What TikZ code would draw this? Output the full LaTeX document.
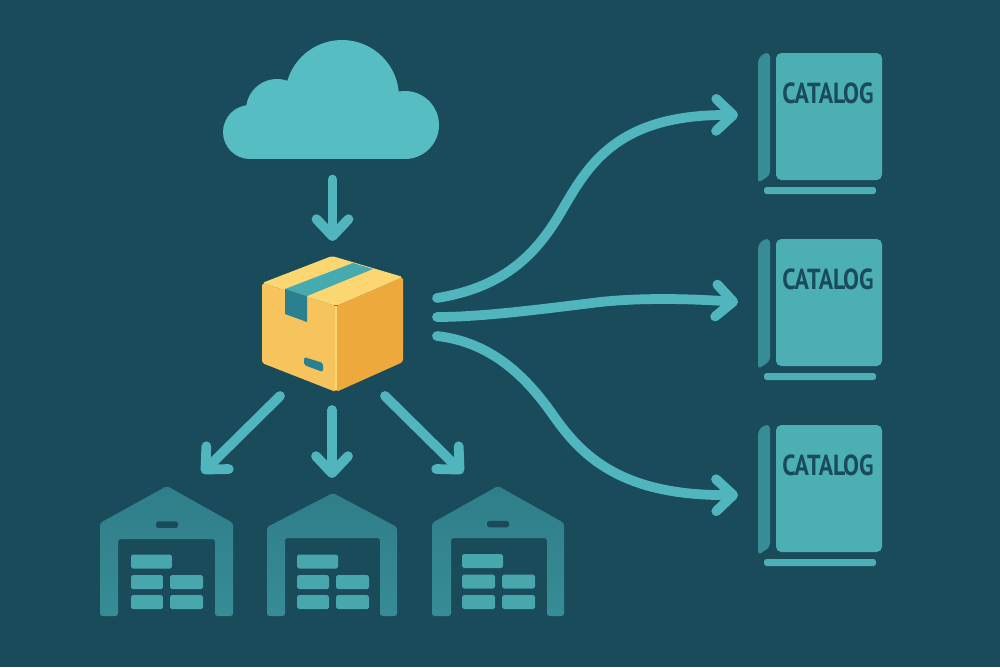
\documentclass[tikz,border=0pt]{standalone}
\usepackage{fontspec}
\usetikzlibrary{arrows.meta}
\newfontfamily\catfont[FakeStretch=0.82]{PT Sans}
\definecolor{bgblue}{HTML}{1A4B5B}
\definecolor{cloudtl}{HTML}{56BEC2}
\definecolor{flowteal}{HTML}{50B5BC}
\definecolor{covertl}{HTML}{4BAFB4}
\definecolor{spinetl}{HTML}{378C95}
\definecolor{barntop}{HTML}{2F7E89}
\definecolor{barnlow}{HTML}{378C95}
\definecolor{cratetl}{HTML}{48A6AD}
\definecolor{boxleft}{HTML}{F7C35C}
\definecolor{boxtop}{HTML}{FBD671}
\definecolor{boxright}{HTML}{EDA93C}
\definecolor{tapetl}{HTML}{46ABB1}
\definecolor{flaptl}{HTML}{2B8090}

\begin{document}
\begin{tikzpicture}[
  x=0.02cm, y=-0.02cm,
  every node/.style={inner sep=0pt, outer sep=0pt},
  flow/.style={line width=0.195cm, line cap=round, flowteal,
    -{Straight Barb[round, length=3.4mm, width=6.4mm]}},
  barn/.style={top color=barntop, bottom color=barnlow, rounded corners=1.5pt},
  crate/.style={fill=cratetl, rounded corners=1pt, minimum height=0.28cm},
  vent/.style={fill=bgblue, rounded corners=1pt, minimum width=0.44cm, minimum height=0.13cm},
  book/.style={minimum width=2.48cm, minimum height=2.6cm},
  cover/.style={fill=covertl, rounded corners=3pt},
  title/.style={text=bgblue, font=\catfont\bfseries\fontsize{16.5}{18}\selectfont}
]

\fill[bgblue] (0,0) rectangle (1000,667);
\useasboundingbox (0,0) rectangle (1000,667);

% ---------- Cloud ----------
\node[minimum width=4.32cm, minimum height=2.4cm] (cloud) at (332.5,100) {};
\fill[cloudtl] (250,132) circle[radius=27];
\fill[cloudtl] (277,110) circle[radius=31];
\fill[cloudtl] (342,97) circle[radius=57];
\fill[cloudtl] (405,125) circle[radius=34];
\fill[cloudtl] (250,115) rectangle (405,159);

% ---------- Parcel ----------
\node[minimum width=2.82cm, minimum height=2.72cm] (box) at (332.5,324) {};
\fill[boxleft, rounded corners=1.5pt] (262,283) -- (336,306) -- (336,392) -- (262,363) -- cycle;
\fill[boxright, rounded corners=1.5pt] (336,306) -- (403,277) -- (403,362) -- (336,392) -- cycle;
\fill[boxtop, rounded corners=1.5pt] (332,256) -- (403,277) -- (336,306) -- (262,283) -- cycle;
\draw[boxtop, line width=0.05cm] (336,306) -- (336,390);
\fill[tapetl] (353,263) -- (373,269) -- (307,296) -- (285,289) -- cycle;
\fill[flaptl] (285,289) -- (307,296) -- (307,322) -- (285,314) -- cycle;
\fill[flaptl, rounded corners=1pt] (304,357) -- (323,363) -- (323,372) -- (304,365) -- cycle;

% ---------- Warehouse A ----------
\node[minimum width=2.66cm, minimum height=2.6cm] (whA) at (166.5,551) {};
\shade[barn] (100,616) -- (100,523) -- (167,486) -- (233,523) -- (233,616) -- (215,616)
  -- (215,539) -- (118,539) -- (118,616) -- cycle;
\node[vent] (ventA) at (167,524.5) {};
\node[crate, minimum width=0.82cm] (crateAT) at (151.5,561.5) {};
\node[crate, minimum width=0.64cm] (crateAL) at (147,582) {};
\node[crate, minimum width=0.66cm] (crateAR) at (186.5,582) {};
\node[crate, minimum width=0.64cm] (crateAl) at (147,602) {};
\node[crate, minimum width=0.66cm] (crateAr) at (186.5,602) {};

% ---------- Warehouse B ----------
\node[minimum width=2.6cm, minimum height=2.46cm] (whB) at (332,554.5) {};
\shade[barn] (267,616) -- (267,527) -- (333,493) -- (397,527) -- (397,616) -- (380,616)
  -- (380,538) -- (285,538) -- (285,616) -- cycle;
\node[crate, minimum width=0.82cm] (crateBT) at (317.5,561.5) {};
\node[crate, minimum width=0.64cm] (crateBL) at (313,582) {};
\node[crate, minimum width=0.66cm] (crateBR) at (352.5,582) {};
\node[crate, minimum width=0.64cm] (crateBl) at (313,602) {};
\node[crate, minimum width=0.66cm] (crateBr) at (352.5,602) {};

% ---------- Warehouse C ----------
\node[minimum width=2.64cm, minimum height=2.6cm] (whC) at (498,551) {};
\shade[barn] (432,616) -- (432,523) -- (498,486) -- (564,523) -- (564,616) -- (547,616)
  -- (547,538) -- (451,538) -- (451,616) -- cycle;
\node[vent] (ventC) at (498,524) {};
\node[crate, minimum width=0.82cm] (crateCT) at (482.5,561) {};
\node[crate, minimum width=0.66cm] (crateCL) at (478.5,581.5) {};
\node[crate, minimum width=0.66cm] (crateCR) at (518.5,581.5) {};
\node[crate, minimum width=0.66cm] (crateCl) at (478.5,602) {};
\node[crate, minimum width=0.66cm] (crateCr) at (518.5,602) {};

% ---------- Catalogs ----------
\node[book] (catA) at (820,118.5) {};
\fill[spinetl, rounded corners=2pt] (770,53) -- (764,53) -- (758,59) -- (758,183) -- (770,175) -- cycle;
\fill[cover] (776,53) rectangle (882,180);
\fill[covertl, rounded corners=1.5pt] (764,187) rectangle (876,194);
\node[title] (catAtitle) at (828,93) {CATALOG};

\node[book] (catB) at (820,304.5) {};
\fill[spinetl, rounded corners=2pt] (770,239) -- (764,239) -- (758,245) -- (758,369) -- (770,361) -- cycle;
\fill[cover] (776,239) rectangle (882,366);
\fill[covertl, rounded corners=1.5pt] (764,373) rectangle (876,380);
\node[title] (catBtitle) at (828,279) {CATALOG};

\node[book] (catC) at (820,490.5) {};
\fill[spinetl, rounded corners=2pt] (770,425) -- (764,425) -- (758,431) -- (758,555) -- (770,547) -- cycle;
\fill[cover] (776,425) rectangle (882,552);
\fill[covertl, rounded corners=1.5pt] (764,559) rectangle (876,566);
\node[title] (catCtitle) at (828,465) {CATALOG};

% ---------- Connectors ----------
\coordinate (outL) at (280,396);
\coordinate (inA) at (202,473);
\coordinate (outR) at (385,396);
\coordinate (inC) at (463,473);
\coordinate (fanA) at (437,298);
\coordinate (fanB) at (437,317);
\coordinate (fanC) at (437,336);
\coordinate (bendA) at (558,217);
\coordinate (bendB) at (592,303);
\coordinate (bendC) at (553,415);

\draw[flow, shorten <=0.39cm, shorten >=0.3cm] (cloud) -- (box);
\draw[flow] (outL) -- (inA);
\draw[flow, shorten <=0.36cm, shorten >=0.3cm] (box.south -| whB) -- (whB);
\draw[flow] (outR) -- (inC);

\draw[flow, shorten >=0.4cm] (fanA) .. controls (500,288) and (533,258) .. (bendA)
  .. controls (585,172) and (610,114) .. (catA.177);
\draw[flow, shorten >=0.4cm] (fanB) .. controls (480,317) and (535,310) .. (bendB)
  .. controls (630,298) and (680,298) .. (catB.179);
\draw[flow, shorten >=0.4cm] (fanC) .. controls (490,342) and (525,375) .. (bendC)
  .. controls (581,455) and (620,496) .. (catC.184);

\end{tikzpicture}
\end{document}
